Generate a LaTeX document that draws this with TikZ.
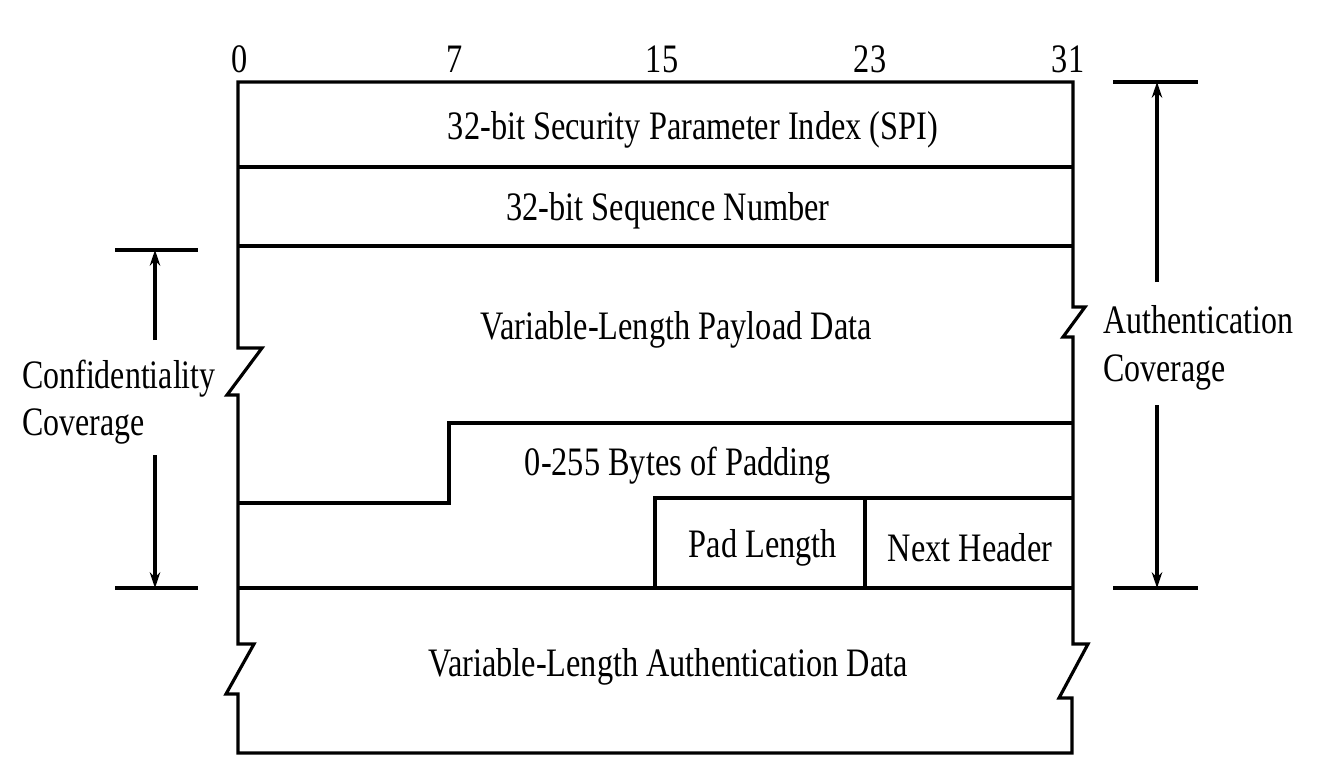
\documentclass[tikz,border=0pt]{standalone}
\usepackage{fontspec}
\setmainfont{Liberation Serif}
\usetikzlibrary{arrows.meta,positioning}

\begin{document}
\begin{tikzpicture}[x=0.02cm, y=-0.02cm,
    frame/.style={line width=1.8pt, line join=miter},
    field/.style={font=\fontsize{23}{27}\selectfont, xscale=0.8, inner sep=0pt},
    side/.style={font=\fontsize{23}{27}\selectfont, xscale=0.79, inner sep=0pt, align=left, anchor=west},
    cover/.style={line width=1.8pt, -{Stealth[length=9pt,width=6pt]}}]
    \useasboundingbox (0,0) rectangle (1322,782);

    % Bit positions
    \node[field] (b0) at (240,59) {0};
    \node[field] (b7) at (455,59) {7};
    \node[field] (b15) at (662,59) {15};
    \node[field] (b23) at (870,59) {23};
    \node[field] (b31) at (1068,59) {31};

    % Outer frame with the breaks
    \draw[frame] (238,348) -- (238,82) -- (1073,82) -- (1073,307) -- (1085,307)
        -- (1063,337) -- (1073,337) -- (1073,644) -- (1088,644) -- (1059,698)
        -- (1072,698) -- (1072,753) -- (238,753) -- (238,694) -- (226,694)
        -- (254,644) -- (238,644) -- (238,395) -- (227,395) -- (262,348) -- cycle;

    % Field borders
    \draw[frame] (238,167) -- (1073,167);
    \draw[frame] (238,246) -- (1073,246);
    \draw[frame] (238,503) -- (449,503) -- (449,423) -- (1073,423);
    \draw[frame] (655,588) -- (655,498) -- (1073,498);
    \draw[frame] (865,498) -- (865,588);
    \draw[frame] (238,588) -- (1073,588);

    % Fields
    \node[field] (spi) at (693,130) {32-bit Security Parameter Index (SPI)};
    \node[field] (seq) at (668,211) {32-bit Sequence Number};
    \node[field] (payload) at (676,330) {Variable-Length Payload Data};
    \node[field] (pad) at (678,466) {0-255 Bytes of Padding};
    \node[field] (padlen) at (763,548) {Pad Length};
    \node[field] (nexthdr) at (970,548) {Next Header};
    \node[field] (authdata) at (668,667) {Variable-Length Authentication Data};

    % Confidentiality coverage
    \draw[frame] (115,250) -- (198,250);
    \draw[frame] (115,588) -- (198,588);
    \coordinate (ctop) at (155,250);
    \coordinate (cbot) at (155,588);
    \coordinate (cup) at (155,340);
    \coordinate (cdn) at (155,455);
    \node[side] (conf) at (22,402) {Confidentiality\\Coverage};
    \draw[cover] (cup) -- (ctop);
    \draw[cover] (cdn) -- (cbot);

    % Authentication coverage
    \draw[frame] (1113,82) -- (1198,82);
    \draw[frame] (1113,588) -- (1198,588);
    \coordinate (atop) at (1157,82);
    \coordinate (abot) at (1157,588);
    \coordinate (aup) at (1157,282);
    \coordinate (adn) at (1157,405);
    \node[side] (auth) at (1103,348) {Authentication\\Coverage};
    \draw[cover] (aup) -- (atop);
    \draw[cover] (adn) -- (abot);
\end{tikzpicture}
\end{document}
